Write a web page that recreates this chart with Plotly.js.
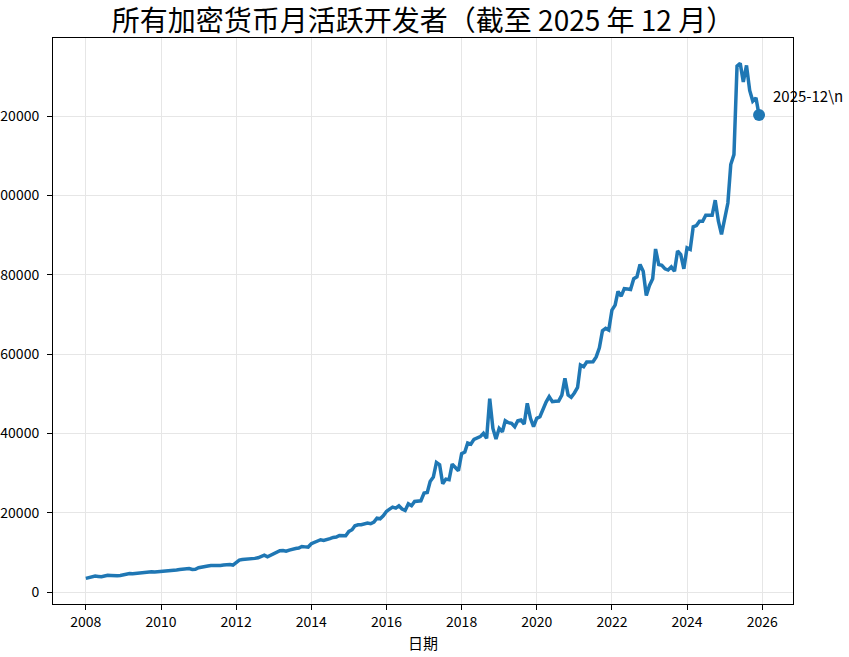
<!DOCTYPE html>
<html>
<head>
<meta charset="utf-8">
<script src="https://cdn.plot.ly/plotly-3.0.1.min.js"></script>
<style>
html, body { margin: 0; padding: 0; overflow: hidden; background: #ffffff; }
#chart { width: 849px; height: 657px; }
</style>
</head>
<body>
<div id="chart"></div>
<script>
// ---- data ----
const years = [2008, 2009, 2010, 2011, 2012, 2013, 2014, 2015, 2016,
               2017, 2018, 2019, 2020, 2021, 2022, 2023, 2024, 2025];
const monthLabels = ['01','02','03','04','05','06','07','08','09','10','11','12'];

// monthly active developers, one row per year (Jan..Dec)
const developers = [
  3450, 3700, 3900, 4030, 3950, 3870, 4050, 4250, 4200, 4120, 4100, 4200,
  4400, 4460, 4700, 4650, 4750, 4880, 4900, 5000, 5130, 5100, 5050, 5100,
  5130, 5250, 5380, 5400, 5500, 5600, 5720, 5800, 5970, 5950, 5700, 5750,
  6140, 6350, 6560, 6600, 6730, 6700, 6750, 6730, 6850, 6980, 6950, 6810,
  7480, 8070, 8200, 8240, 8200, 8240, 8500, 8660, 9100, 9330, 8910, 9300,
  9750, 10100, 10420, 10500, 10300, 10600, 10880, 11000, 11090, 11510, 11400, 11350,
  12190, 12530, 12800, 13200, 13030, 13370, 13500, 13790, 13870, 14290, 14250, 14200,
  15300, 15720, 16730, 16980, 16980, 17200, 17400, 17230, 17650, 18660, 18490, 19240,
  20340, 20930, 21430, 21180, 21770, 20930, 20590, 22270, 21770, 22860, 23030, 23030,
  24960, 25130, 27900, 28990, 32690, 32100, 27310, 28490, 28320, 32270, 31430, 30590,
  34880, 35300, 37600, 37330, 38510, 38800, 39200, 40020, 38760, 48770, 41280, 38590,
  41280, 40440, 43210, 42710, 42540, 41700, 43210, 43380, 42370, 47590, 43800, 41700,
  43800, 44220, 46200, 47900, 49260, 48000, 48100, 48170, 49680, 53880, 49680, 49090,
  50200, 51610, 57240, 56820, 58000, 58080, 58080, 59300, 61600, 65890, 66480, 66060,
  71100, 72360, 75800, 74600, 76500, 76400, 76300, 79000, 79500, 82600, 80900, 74800,
  77300, 79000, 86500, 82600, 82400, 81500, 81200, 82000, 80900, 86000, 85100, 81500,
  86800, 86400, 92100, 92400, 93500, 93500, 95000, 95000, 95000, 98800, 93500, 90200,
  94000, 98100, 107800, 110300, 132600, 133300, 128600, 132800, 126500, 123800, 124600, 120300
];

const xTickYears = [2008, 2010, 2012, 2014, 2016, 2018, 2020, 2022, 2024, 2026];
const yTicks = [0, 20000, 40000, 60000, 80000, 100000, 120000];

const titleText = '所有加密货币月活跃开发者（截至 2025 年 12 月）';
const xTitleText = '日期';
const lastLabel = '2025-12\\n';

// ---- build ----
const dates = [];
years.forEach(y => monthLabels.forEach(m => dates.push(y + '-' + m + '-01')));
const lastIdx = developers.length - 1;

const FONT = '"Noto Sans CJK SC", "Noto Sans", "DejaVu Sans", sans-serif';
const BLUE = '#1f77b4';

const traces = [
  {
    type: 'scatter', mode: 'lines',
    x: dates, y: developers,
    line: { color: BLUE, width: 3.5 },
    hoverinfo: 'skip', showlegend: false
  },
  {
    type: 'scatter', mode: 'markers',
    x: [dates[lastIdx]], y: [developers[lastIdx]],
    marker: { color: BLUE, size: 12 },
    hoverinfo: 'skip', showlegend: false
  }
];

const layout = {
  width: 849, height: 657,
  margin: { l: 53, r: 56, t: 38, b: 53 },
  paper_bgcolor: '#ffffff', plot_bgcolor: '#ffffff',
  font: { family: FONT, size: 14, color: '#000000' },
  showlegend: false,
  title: {
    text: titleText,
    font: { family: FONT, size: 28, color: '#000000' },
    xref: 'paper', x: 0.5, xanchor: 'center',
    yref: 'container', y: 1 - 21 / 657, yanchor: 'middle'
  },
  xaxis: {
    type: 'date',
    range: ['2007-02-16', '2026-10-27'],
    tickvals: xTickYears.map(y => y + '-01-01'),
    ticktext: xTickYears.map(String),
    ticks: 'outside', ticklen: 5, tickwidth: 1, tickcolor: '#000',
    showline: true, linecolor: '#000', linewidth: 1, mirror: true,
    showgrid: true, gridcolor: '#e6e6e6', gridwidth: 1,
    zeroline: false, automargin: false,
    tickfont: { family: FONT, size: 14, color: '#000' },
    title: { text: xTitleText, font: { family: FONT, size: 15, color: '#000' }, standoff: 8 }
  },
  yaxis: {
    range: [-3000, 139700],
    tickvals: yTicks,
    ticktext: yTicks.map(String),
    ticks: 'outside', ticklen: 5, tickwidth: 1, tickcolor: '#000',
    ticklabelstandoff: 5,
    showline: true, linecolor: '#000', linewidth: 1, mirror: true,
    showgrid: true, gridcolor: '#e6e6e6', gridwidth: 1,
    zeroline: false, automargin: false,
    tickfont: { family: FONT, size: 14, color: '#000' }
  },
  annotations: [
    {
      xref: 'x', yref: 'y',
      x: dates[lastIdx], y: developers[lastIdx],
      text: lastLabel, showarrow: false,
      xanchor: 'left', yanchor: 'middle',
      xshift: 12, yshift: 19,
      font: { family: FONT, size: 15, color: '#000' }
    }
  ]
};

Plotly.newPlot('chart', traces, layout, { staticPlot: true, displayModeBar: false });
</script>
</body>
</html>
